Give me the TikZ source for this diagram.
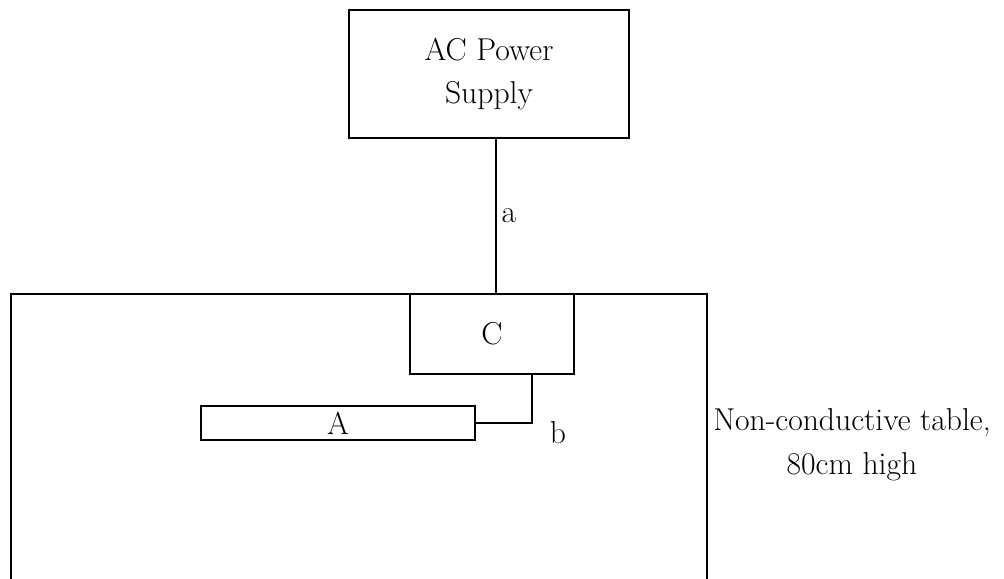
\documentclass[tikz,border=0pt]{standalone}
\usepackage{fontspec}
\usetikzlibrary{positioning}

\tikzset{
  unitbox/.style={draw,line width=1.3pt,inner sep=0pt,align=center},
  wire/.style={line width=1.3pt},
  lbl/.style={font=\fontsize{22.5}{31}\selectfont,align=center}
}

\begin{document}
\begin{tikzpicture}
\useasboundingbox (0,0) rectangle (25.1,14.475);
% table outline, open at the bottom
\draw[wire] (0.275,0) -- (0.275,7.125) -- (17.675,7.125) -- (17.675,0);
\node[lbl] (tablelbl) at (21.3,3.35) {Non-conductive table,\\80cm high};
% boxes
\node[unitbox,lbl,minimum width=7cm,minimum height=3.2cm] (supply) at (12.225,12.625) {AC Power\\Supply};
\node[unitbox,lbl,fill=white,minimum width=4.1cm,minimum height=2cm] (ctrl) at (12.3,6.125) {C};
\node[unitbox,lbl,minimum width=6.85cm,minimum height=0.85cm] (dev) at (8.45,3.9) {A};
% connections
\draw[wire] ([xshift=0.175cm]supply.south) -- node[lbl,right]{a} ([xshift=0.1cm]ctrl.north);
\draw[wire] ([xshift=1cm]ctrl.south) |- (dev.east);
\node[lbl] (lblb) at (13.95,3.65) {b};
\end{tikzpicture}
\end{document}
